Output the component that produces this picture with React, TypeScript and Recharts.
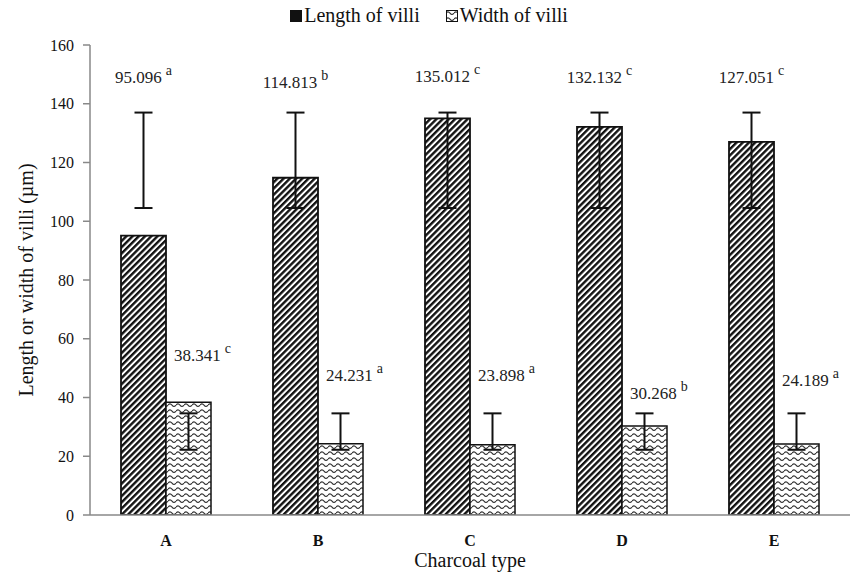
import { BarChart, Bar, XAxis, YAxis, ErrorBar, LabelList } from "recharts";

const CATEGORIES = ["A", "B", "C", "D", "E"];
const LENGTH = [95.096, 114.813, 135.012, 132.132, 127.051];
const WIDTH = [38.341, 24.231, 23.898, 30.268, 24.189];
const LENGTH_LETTERS = ["a", "b", "c", "c", "c"];
const WIDTH_LETTERS = ["c", "a", "a", "b", "a"];
// error bar ends as drawn in the figure
const LENGTH_LOW = [104.5, 104.5, 104.5, 104.5, 104.5];
const LENGTH_HIGH = [137, 137, 137, 137, 137];
const WIDTH_LOW = [22.2, 22.2, 22.2, 22.2, 22.2];
const WIDTH_HIGH = [34.6, 34.6, 34.6, 34.6, 34.6];
// where the data labels sit (in axis units)
const LENGTH_LABEL_AT = [149, 147.5, 149.5, 149, 149];
const WIDTH_LABEL_AT = [54.4, 47.6, 47.5, 41.5, 46];
const Y_TICKS = [0, 20, 40, 60, 80, 100, 120, 140, 160];

const data = CATEGORIES.map((c, i) => ({
  cat: c,
  length: LENGTH[i],
  width: WIDTH[i],
  lengthErr: [LENGTH[i] - LENGTH_LOW[i], LENGTH_HIGH[i] - LENGTH[i]],
  widthErr: [WIDTH[i] - WIDTH_LOW[i], WIDTH_HIGH[i] - WIDTH[i]],
}));

const FONT = '"Liberation Serif", "Times New Roman", serif';

function makeLabel(letters: string[], levels: number[], anchor: "middle" | "start") {
  return (props: any) => {
    const { x, y, width, height, value, index } = props;
    const base = y + height;
    const pxPerUnit = height / value;
    const ly = base - levels[index] * pxPerUnit;
    const lx = anchor === "middle" ? x + width / 2 : x + 8;
    return (
      <text x={lx} y={ly} textAnchor={anchor} dominantBaseline="central" fontFamily={FONT} fontSize={17} fill="#222">
        <tspan>{value.toFixed(3)}</tspan>
        <tspan dx={4} dy={-7} fontSize={14}>{letters[index]}</tspan>
      </text>
    );
  };
}

function YLabel() {
  return (
    <text x={0} y={0} transform="translate(26,280) rotate(-90)" textAnchor="middle" dominantBaseline="central" fontFamily={FONT} fontSize={20} fill="#111">
      Length or width of villi  (µm)
    </text>
  );
}

export default function App() {
  return (
    <div style={{ position: "relative", width: 858, height: 584, background: "#fff", fontFamily: FONT }}>
      <style>{`body{margin:0}`}</style>
      <BarChart width={858} height={584} data={data} margin={{ top: 45, right: 8, bottom: 39, left: 0 }} barGap={0} barSize={45}>
        <defs>
          <pattern id="hatch" patternUnits="userSpaceOnUse" width={4.4} height={4.4} patternTransform="rotate(45)">
            <rect width={4.4} height={4.4} fill="#fff" />
            <line x1={1.2} y1={0} x2={1.2} y2={4.4} stroke="#111" strokeWidth={2.4} />
          </pattern>
          <pattern id="wave" patternUnits="userSpaceOnUse" width={8} height={6}>
            <rect width={8} height={6} fill="#fff" />
            <path d="M0 3.2 Q2 0.6 4 3.2 T8 3.2" fill="none" stroke="#333" strokeWidth={1.1} />
          </pattern>
        </defs>
        <XAxis
          dataKey="cat"
          height={30}
          axisLine={{ stroke: "#888", strokeWidth: 1.5 }}
          tickLine={false}
          tickSize={0}
          tickMargin={20}
          tick={{ fontFamily: FONT, fontSize: 16, fontWeight: 700, fill: "#111" }}
          label={{ value: "Charcoal type", position: "bottom", offset: 8, fontFamily: FONT, fontSize: 20, fill: "#111" }}
        />
        <YAxis
          width={90}
          domain={[0, 160]}
          ticks={Y_TICKS}
          allowDataOverflow
          axisLine={{ stroke: "#888", strokeWidth: 1.5 }}
          tickLine={{ stroke: "#888", strokeWidth: 1.5 }}
          tickSize={7}
          tickMargin={9}
          tick={{ fontFamily: FONT, fontSize: 16, fill: "#111" }}
          label={<YLabel />}
        />
        <Bar dataKey="length" fill="url(#hatch)" stroke="#111" strokeWidth={1.8} isAnimationActive={false}>
          <ErrorBar dataKey="lengthErr" direction="y" width={9} stroke="#111" strokeWidth={2} />
          <LabelList dataKey="length" content={makeLabel(LENGTH_LETTERS, LENGTH_LABEL_AT, "middle")} />
        </Bar>
        <Bar dataKey="width" fill="url(#wave)" stroke="#111" strokeWidth={1.5} isAnimationActive={false}>
          <ErrorBar dataKey="widthErr" direction="y" width={9} stroke="#111" strokeWidth={2} />
          <LabelList dataKey="width" content={makeLabel(WIDTH_LETTERS, WIDTH_LABEL_AT, "start")} />
        </Bar>
      </BarChart>
      <div style={{ position: "absolute", top: 4, left: 0, width: 858, display: "flex", justifyContent: "center", gap: 26, fontSize: 20, color: "#111" }}>
        <span style={{ display: "flex", alignItems: "center" }}>
          <svg width={12} height={12} style={{ marginRight: 2 }}>
            <rect x={0.5} y={0.5} width={11} height={11} fill="#111" stroke="#111" />
          </svg>
          Length of villi
        </span>
        <span style={{ display: "flex", alignItems: "center" }}>
          <svg width={12} height={12} style={{ marginRight: 2 }}>
            <rect x={0.5} y={0.5} width={11} height={11} fill="url(#wave)" stroke="#111" />
          </svg>
          Width of villi
        </span>
      </div>
    </div>
  );
}
